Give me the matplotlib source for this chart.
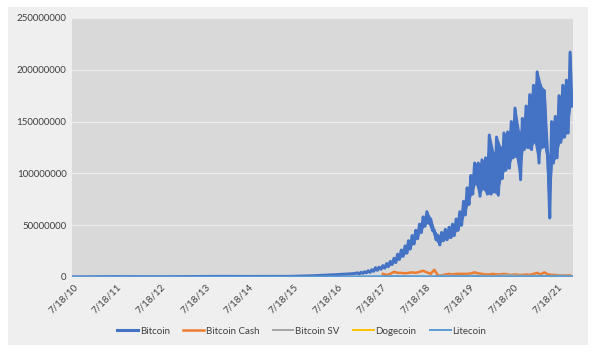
import pandas as pd
import matplotlib.pyplot as plt
from matplotlib.patches import Rectangle

plt.rcParams['font.family'] = ['Lato', 'DejaVu Sans']

# Bitcoin, values in millions
btc_dates = ['2010-07-18', '2011-06-01', '2012-07-01', '2013-04-01', '2013-12-01',
             '2014-07-01', '2015-07-01', '2016-01-01', '2016-07-01', '2016-12-01']
btc_vals = [0.05, 0.3, 0.2, 0.4, 0.6, 0.5, 0.6, 1.2, 2.2, 3.2]

# from 2017 on: top and bottom of the noisy band for each month
btc_months = pd.date_range('2017-01-01', '2021-11-01', freq='MS')
btc_pairs = [
    (4, 3), (4.5, 3.5), (5, 4), (6, 4.5), (7, 5.5), (9, 6.5), (9.5, 7.5), (11, 8.5),
    (13, 10), (15, 12), (18, 14), (22, 17),
    (26, 20), (30, 23), (35, 27), (40, 32), (45, 37), (51, 43), (58, 49), (63, 52),
    (56, 45), (45, 36), (40, 31), (43, 35),
    (46, 36), (48, 38), (51, 40), (56, 45), (63, 50), (73, 60), (86, 70), (98, 80),
    (110, 90), (110, 78), (113, 85), (115, 80),
    (137, 80), (120, 82), (135, 79), (125, 95), (139, 103), (140, 105), (150, 115),
    (163, 116), (140, 94), (153, 123), (165, 125), (176, 123),
    (185, 130), (198, 110), (185, 125), (180, 125), (116, 57), (150, 110), (155, 115),
    (175, 130), (185, 135), (190, 139), (217, 165),
]

bch_dates = pd.date_range('2017-08-01', '2021-11-01', freq='MS')
bch_vals = [3, 2, 3, 5, 4, 4, 3.5, 4, 4.5, 4, 5, 6, 4.5, 3, 7, 1.5, 1.5,
            2.5, 3, 2.5, 3, 3, 3, 3, 3.5, 4.5, 3.5, 3, 2.5,
            2.5, 3, 2.5, 2.5, 3, 2.5, 2, 2.5, 2, 2, 2.5, 2,
            3, 4, 2.5, 4.5, 2.5, 2, 2, 1.5, 1.5, 1.5, 1.5]

bsv_dates = ['2018-11-15', '2019-02-15', '2019-05-15', '2019-08-15', '2019-11-15',
             '2020-02-15', '2020-05-15', '2020-08-15', '2020-11-15', '2021-02-15',
             '2021-05-15', '2021-08-15', '2021-11-20']
bsv_vals = [1.5, 1.2, 1.0, 1.4, 1.2, 1.0, 2.0, 1.5, 1.2, 1.3, 1.0, 1.5, 1.0]

doge_dates = ['2013-12-15', '2017-12-01', '2021-02-01', '2021-05-01', '2021-11-20']
doge_vals = [0.02, 0.1, 0.3, 0.4, 0.2]

ltc_dates = ['2010-07-18', '2013-12-01', '2016-01-01', '2017-12-01', '2018-06-01',
             '2019-06-01', '2020-06-01', '2021-05-01', '2021-11-20']
ltc_vals = [0.1, 0.3, 0.3, 0.9, 0.7, 0.8, 0.6, 0.9, 0.7]

series_names = ['Bitcoin', 'Bitcoin Cash', 'Bitcoin SV', 'Dogecoin', 'Litecoin']
colors = ['#4472C4', '#ED7D31', '#A5A5A5', '#FFC000', '#5B9BD5']


def btc_series():
    d = list(pd.to_datetime(btc_dates))
    v = list(btc_vals)
    for m, (hi, lo) in zip(btc_months, btc_pairs):
        d += [m, m + pd.Timedelta(days=15)]
        v += [hi, lo]
    return d, [x * 1e6 for x in v]


fig = plt.figure(figsize=(6, 3.52), dpi=100)
fig.patch.set_facecolor('white')

# light grey card behind the chart
bg = fig.add_axes([0, 0, 1, 1], zorder=-1)
bg.axis('off')
bg.set_xlim(0, 600)
bg.set_ylim(352, 0)
bg.add_patch(Rectangle((8, 7), 580, 338, facecolor='#efefef', edgecolor='none'))

ax = fig.add_axes([72 / 600, 1 - 277 / 352, 501 / 600, 259 / 352], zorder=1)
ax.set_facecolor('#d9d9d9')

# bitcoin: solid band between monthly top and bottom, zigzag on top of it
band_x = btc_months + pd.Timedelta(days=7)
ax.fill_between(band_x, [lo * 1e6 for hi, lo in btc_pairs],
                [hi * 1e6 for hi, lo in btc_pairs], color=colors[0], lw=0, zorder=3)
d, v = btc_series()
ax.plot(d, v, color=colors[0], lw=2.2, label=series_names[0], zorder=3)

ax.plot(bch_dates, [x * 1e6 for x in bch_vals], color=colors[1], lw=1.8,
        label=series_names[1], zorder=4)
ax.plot(pd.to_datetime(bsv_dates), [x * 1e6 for x in bsv_vals], color=colors[2],
        lw=1.4, label=series_names[2], zorder=4)
ax.plot(pd.to_datetime(doge_dates), [x * 1e6 for x in doge_vals], color=colors[3],
        lw=1.4, label=series_names[3], zorder=4)
ax.plot(pd.to_datetime(ltc_dates), [x * 1e6 for x in ltc_vals], color=colors[4],
        lw=1.4, label=series_names[4], zorder=5)

ax.set_ylim(0, 250000000)
ax.set_yticks(range(0, 250000001, 50000000))
ax.yaxis.set_major_formatter(plt.FuncFormatter(lambda y, p: '%d' % y))
ax.grid(axis='y', color='#ececec', lw=0.8)
ax.set_axisbelow(True)

ticks = pd.to_datetime(['2010-07-18', '2011-07-18', '2012-07-18', '2013-07-18',
                        '2014-07-18', '2015-07-18', '2016-07-18', '2017-07-18',
                        '2018-07-18', '2019-07-18', '2020-07-18', '2021-07-18'])
ax.set_xticks(ticks)
ax.set_xticklabels([t.strftime('%-m/%d/%y') for t in ticks], rotation=45,
                   ha='right', rotation_mode='anchor')
ax.set_xlim(pd.Timestamp('2010-07-10'), pd.Timestamp('2021-11-25'))

for s in ax.spines.values():
    s.set_visible(False)
ax.tick_params(length=0, labelsize=7, colors='#404040', pad=4)

ax.legend(loc='center', bbox_to_anchor=(0.459, -0.21), ncol=5, frameon=False,
          fontsize=7, handlelength=2.1, columnspacing=1.4, handletextpad=0.2,
          labelcolor='#404040')

fig.savefig('out.png', dpi=100, facecolor=fig.get_facecolor())
